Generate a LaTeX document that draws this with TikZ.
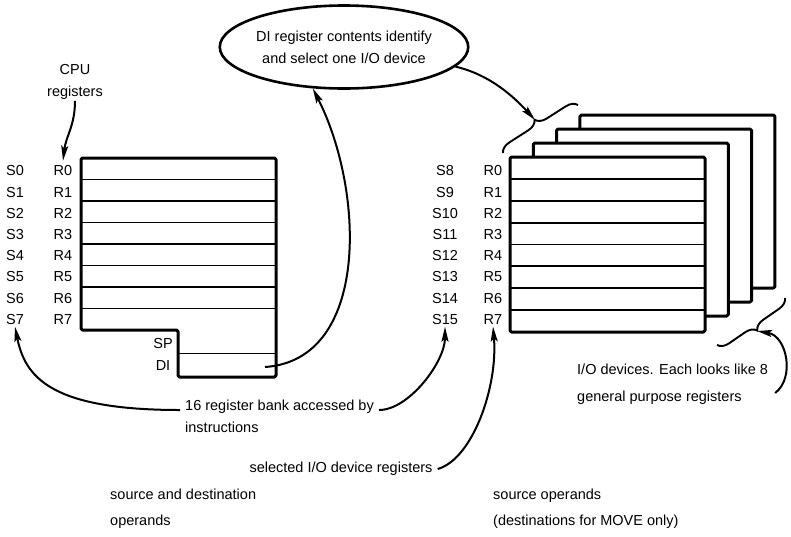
\documentclass[tikz,border=0pt]{standalone}
\usepackage{fontspec}
\setmainfont{Liberation Sans}
\usetikzlibrary{arrows.meta,shapes.geometric,decorations.pathreplacing}

\begin{document}
\begin{tikzpicture}[
  x=1pt, y=-1pt,
  font=\fontsize{14.5}{22}\selectfont,
  lbl/.style={inner sep=2pt},
  txt/.style={inner sep=1pt, align=left, anchor=north west},
  bankline/.style={line width=3pt, line join=round, rounded corners=1.5pt},
  rowline/.style={line width=1.8pt},
  cardbox/.style={bankline, fill=white},
  arr/.style={-{Stealth[length=15pt,width=7pt,inset=3pt]}, line width=2pt},
  brc/.style={decorate, decoration={brace, amplitude=11pt}, line width=1.9pt}
]
  \useasboundingbox (0,0) rectangle (791,536);

  %% CPU register bank (R0-R7, SP, DI)
  \foreach \k in {1,...,7}
    \draw[rowline] (81, 158+21.5*\k) -- (276, 158+21.5*\k);
  \draw[rowline] (178, 353.5) -- (276, 353.5);
  \draw[bankline] (81,158) -- (276,158) -- (276,377) -- (178,377)
    -- (178,330) -- (81,330) -- cycle;
  \foreach \i in {0,...,7} {
    \node[lbl] (s\i) at (15, 171+21.2*\i) {S\i};
    \node[lbl] (ra\i) at (63, 171+21.2*\i) {R\i};
  }
  \node[lbl] (sp) at (163, 343) {SP};
  \node[lbl] (di) at (163, 366) {DI};

  %% stack of I/O devices, front one selected
  \foreach \d in {3,2,1}
    \draw[cardbox] (510+23.3*\d, 157-14*\d) rectangle +(195,173);
  \draw[cardbox] (510,157) rectangle (705,332);
  \foreach \k in {1,...,7}
    \draw[rowline] (510, 157+21.875*\k) -- (705, 157+21.875*\k);
  \foreach \i [evaluate=\i as \j using int(\i+8)] in {0,...,7} {
    \node[lbl] (s\j) at (445, 171+21.2*\i) {S\j};
    \node[lbl] (rb\i) at (493, 171+21.2*\i) {R\i};
  }

  %% braces round the stack
  \draw[brc] (503,153) -- (578,105);
  \coordinate (tipa) at (535,120);
  \draw[brc] (785,298) -- (717,345);
  \coordinate (tipb) at (757,331);

  %% labels
  \node[align=center, inner sep=1pt] (cpu) at (75,82) {CPU\\registers};
  \node[draw, ellipse, line width=2.6pt, minimum width=244pt, minimum height=83pt,
        inner sep=0pt, align=center] (dinote) at (344,47)
    {DI register contents identify\\and select one I/O device};
  \node[txt] (bank) at (184,399) {16 register bank accessed by\\instructions};
  \node[lbl] (iosel) at (341,469) {selected I/O device registers};
  \node[txt] (iodev) at (576,363) {I/O devices. Each looks like 8\\[5pt]general purpose registers};
  \node[txt] (srcdst) at (109,488) {source and destination\\[4pt]operands};
  \node[txt] (srcmv) at (492,488) {source operands\\[4pt](destinations for MOVE only)};

  %% arrows
  \draw[arr] (cpu.south) .. controls +(0,25) and +(3,-25) .. ([yshift=3pt]ra0.north);
  \coordinate (dipt) at (265,367);
  \draw[arr] (dipt) .. controls +(105,-7) and +(52,102) .. (dinote.233);
  \draw[arr] (dinote.-10) .. controls +(35,8) and +(-20,-22) .. (tipa);
  \draw[arr] ([xshift=-4pt,yshift=-11pt]bank.north west)
    .. controls +(-130,0) and +(10,50) .. (s7.south);
  \draw[arr] ([xshift=4pt,yshift=-11pt]bank.north east)
    .. controls +(30,0) and +(0,35) .. (s15.south);
  \draw[arr] ([xshift=3pt]iosel.east) .. controls +(35,-10) and +(5,60) .. (rb7.south);
  \draw[arr] ([xshift=6pt,yshift=-30pt]iodev.north east)
    .. controls +(20,-15) and +(30,5) .. (tipb);
\end{tikzpicture}
\end{document}
